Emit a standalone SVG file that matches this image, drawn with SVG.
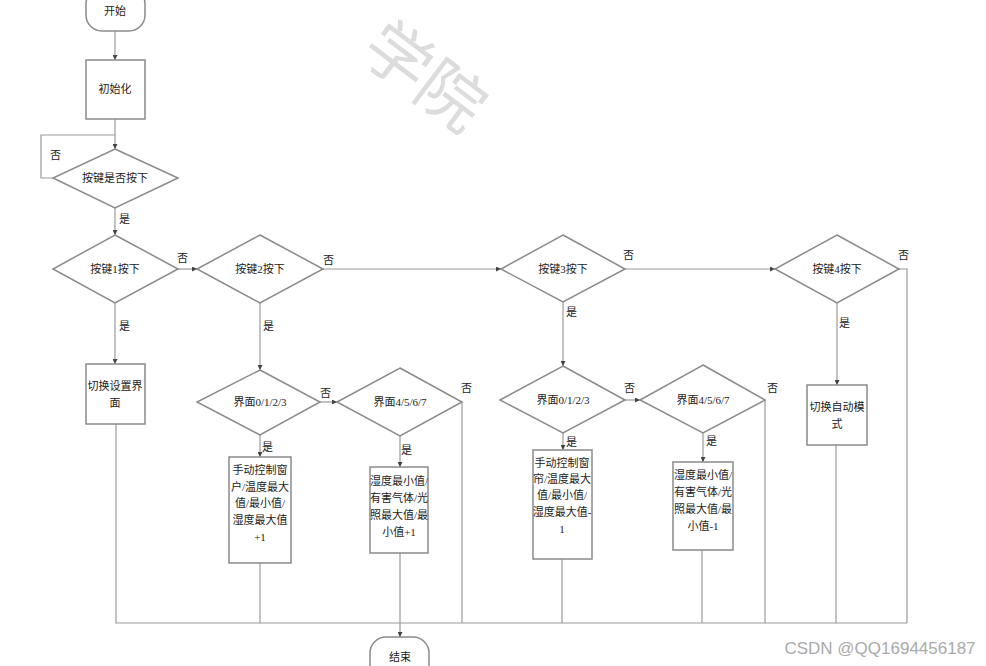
<svg xmlns="http://www.w3.org/2000/svg" width="986" height="666" viewBox="0 0 986 666">
<defs>
<style>
.s{fill:#fff;stroke:#8a8a8a;stroke-width:1.5}
.c{fill:none;stroke:#9a9a9a;stroke-width:1.2}
.t{font-family:"Liberation Serif","Noto Sans CJK SC",serif;font-size:11px;fill:#222;text-anchor:middle;dominant-baseline:central}
.l{font-family:"Liberation Serif","Noto Sans CJK SC",serif;font-size:11px;fill:#222;dominant-baseline:central}
</style>
<marker id="a" viewBox="0 0 8 8" refX="8" refY="4" markerWidth="5" markerHeight="5" orient="auto" markerUnits="userSpaceOnUse"><path d="M0,0L8,4L0,8z" fill="#444"/></marker>
</defs>
<rect width="986" height="666" fill="#fff"/>
<text x="428" y="72" transform="rotate(37 428 72)" font-family="Noto Sans CJK SC,sans-serif" font-size="66" fill="#dcdcdc" text-anchor="middle" dominant-baseline="central">学院</text>
<g id="connectors">
<path class="c" d="M115,31V60" marker-end="url(#a)"/>
<path class="c" d="M115,119V149" marker-end="url(#a)"/>
<path class="c" d="M53,178H41V135H115"/>
<path class="c" d="M115,208V235" marker-end="url(#a)"/>
<path class="c" d="M178,269H197" marker-end="url(#a)"/>
<path class="c" d="M115,303V364" marker-end="url(#a)"/>
<path class="c" d="M323,269H501" marker-end="url(#a)"/>
<path class="c" d="M260,303V370" marker-end="url(#a)"/>
<path class="c" d="M625,269H775" marker-end="url(#a)"/>
<path class="c" d="M563,302V366" marker-end="url(#a)"/>
<path class="c" d="M899,269H907V623"/>
<path class="c" d="M837,303V385" marker-end="url(#a)"/>
<path class="c" d="M320,402H337" marker-end="url(#a)"/>
<path class="c" d="M260,435V457" marker-end="url(#a)"/>
<path class="c" d="M462,402V623"/>
<path class="c" d="M400,436V467" marker-end="url(#a)"/>
<path class="c" d="M625,400H640" marker-end="url(#a)"/>
<path class="c" d="M563,433V450" marker-end="url(#a)"/>
<path class="c" d="M765,400V623"/>
<path class="c" d="M703,433V462" marker-end="url(#a)"/>
<path class="c" d="M116,424V623H907"/>
<path class="c" d="M260,563V623"/>
<path class="c" d="M400,553V637" marker-end="url(#a)"/>
<path class="c" d="M562,559V623"/>
<path class="c" d="M702,550V623"/>
<path class="c" d="M836,445V623"/>
<text class="l" x="50" y="155">否</text>
<text class="l" x="119" y="219">是</text>
<text class="l" x="177" y="258">否</text>
<text class="l" x="119" y="326">是</text>
<text class="l" x="323" y="260">否</text>
<text class="l" x="263" y="326">是</text>
<text class="l" x="623" y="255">否</text>
<text class="l" x="566" y="312">是</text>
<text class="l" x="898" y="255">否</text>
<text class="l" x="839" y="323">是</text>
<text class="l" x="320" y="393">否</text>
<text class="l" x="262" y="447">是</text>
<text class="l" x="461" y="388">否</text>
<text class="l" x="401" y="450">是</text>
<text class="l" x="624" y="388">否</text>
<text class="l" x="566" y="442">是</text>
<text class="l" x="767" y="388">否</text>
<text class="l" x="706" y="441">是</text>
</g>
<g id="start"><rect class="s" x="86" y="-12" width="59" height="43" rx="16"/><text class="t" x="115" y="11">开始</text></g>
<g id="init"><rect class="s" x="86" y="60" width="59" height="59"/><text class="t" x="115" y="89">初始化</text></g>
<g id="keyPressed"><path class="s" d="M115,149L178,178L115,208L53,178z"/><text class="t" x="115" y="178">按键是否按下</text></g>
<g id="key1"><path class="s" d="M115,235L178,269L115,303L53,269z"/><text class="t" x="115" y="269">按键1按下</text></g>
<g id="key2"><path class="s" d="M260,235L323,269L260,303L197,269z"/><text class="t" x="260" y="269">按键2按下</text></g>
<g id="key3"><path class="s" d="M563,235L625,269L563,302L501,269z"/><text class="t" x="563" y="269">按键3按下</text></g>
<g id="key4"><path class="s" d="M837,235L899,269L837,303L775,269z"/><text class="t" x="837" y="269">按键4按下</text></g>
<g id="switchSet"><rect class="s" x="86" y="364" width="59" height="60"/><text class="t" x="115" y="386">切换设置界</text><text class="t" x="115" y="403">面</text></g>
<g id="ifL0123"><path class="s" d="M260,370L320,402L260,435L197,402z"/><text class="t" x="260" y="402">界面0/1/2/3</text></g>
<g id="ifL4567"><path class="s" d="M400,368L462,402L400,436L337,402z"/><text class="t" x="400" y="402">界面4/5/6/7</text></g>
<g id="ifR0123"><path class="s" d="M563,366L625,400L563,433L500,400z"/><text class="t" x="563" y="400">界面0/1/2/3</text></g>
<g id="ifR4567"><path class="s" d="M703,365L765,400L703,433L640,400z"/><text class="t" x="703" y="400">界面4/5/6/7</text></g>
<g id="boxL1"><rect class="s" x="229" y="457" width="62" height="106"/>
<text class="t" x="260" y="470">手动控制窗</text><text class="t" x="260" y="487">户/温度最大</text><text class="t" x="260" y="503">值/最小值/</text><text class="t" x="260" y="520">湿度最大值</text><text class="t" x="260" y="537">+1</text></g>
<g id="boxL2"><rect class="s" x="370" y="467" width="58" height="86"/>
<text class="t" x="399" y="481">湿度最小值/</text><text class="t" x="399" y="498">有害气体/光</text><text class="t" x="399" y="515">照最大值/最</text><text class="t" x="399" y="532">小值+1</text></g>
<g id="boxR1"><rect class="s" x="533" y="450" width="59" height="109"/>
<text class="t" x="562" y="463">手动控制窗</text><text class="t" x="562" y="479">帘/温度最大</text><text class="t" x="562" y="495">值/最小值/</text><text class="t" x="562" y="512">湿度最大值-</text><text class="t" x="562" y="529">1</text></g>
<g id="boxR2"><rect class="s" x="673" y="462" width="60" height="88"/>
<text class="t" x="703" y="475">湿度最小值/</text><text class="t" x="703" y="492">有害气体/光</text><text class="t" x="703" y="509">照最大值/最</text><text class="t" x="703" y="526">小值-1</text></g>
<g id="switchAuto"><rect class="s" x="807" y="385" width="60" height="60"/><text class="t" x="837" y="407">切换自动模</text><text class="t" x="837" y="424">式</text></g>
<g id="end"><rect class="s" x="370" y="637" width="59" height="45" rx="16"/><text class="t" x="400" y="657">结束</text></g>
<text x="880" y="648" font-family="Liberation Sans,Arial,sans-serif" font-size="17" fill="#aaa" text-anchor="middle" dominant-baseline="central">CSDN @QQ1694456187</text>
</svg>
